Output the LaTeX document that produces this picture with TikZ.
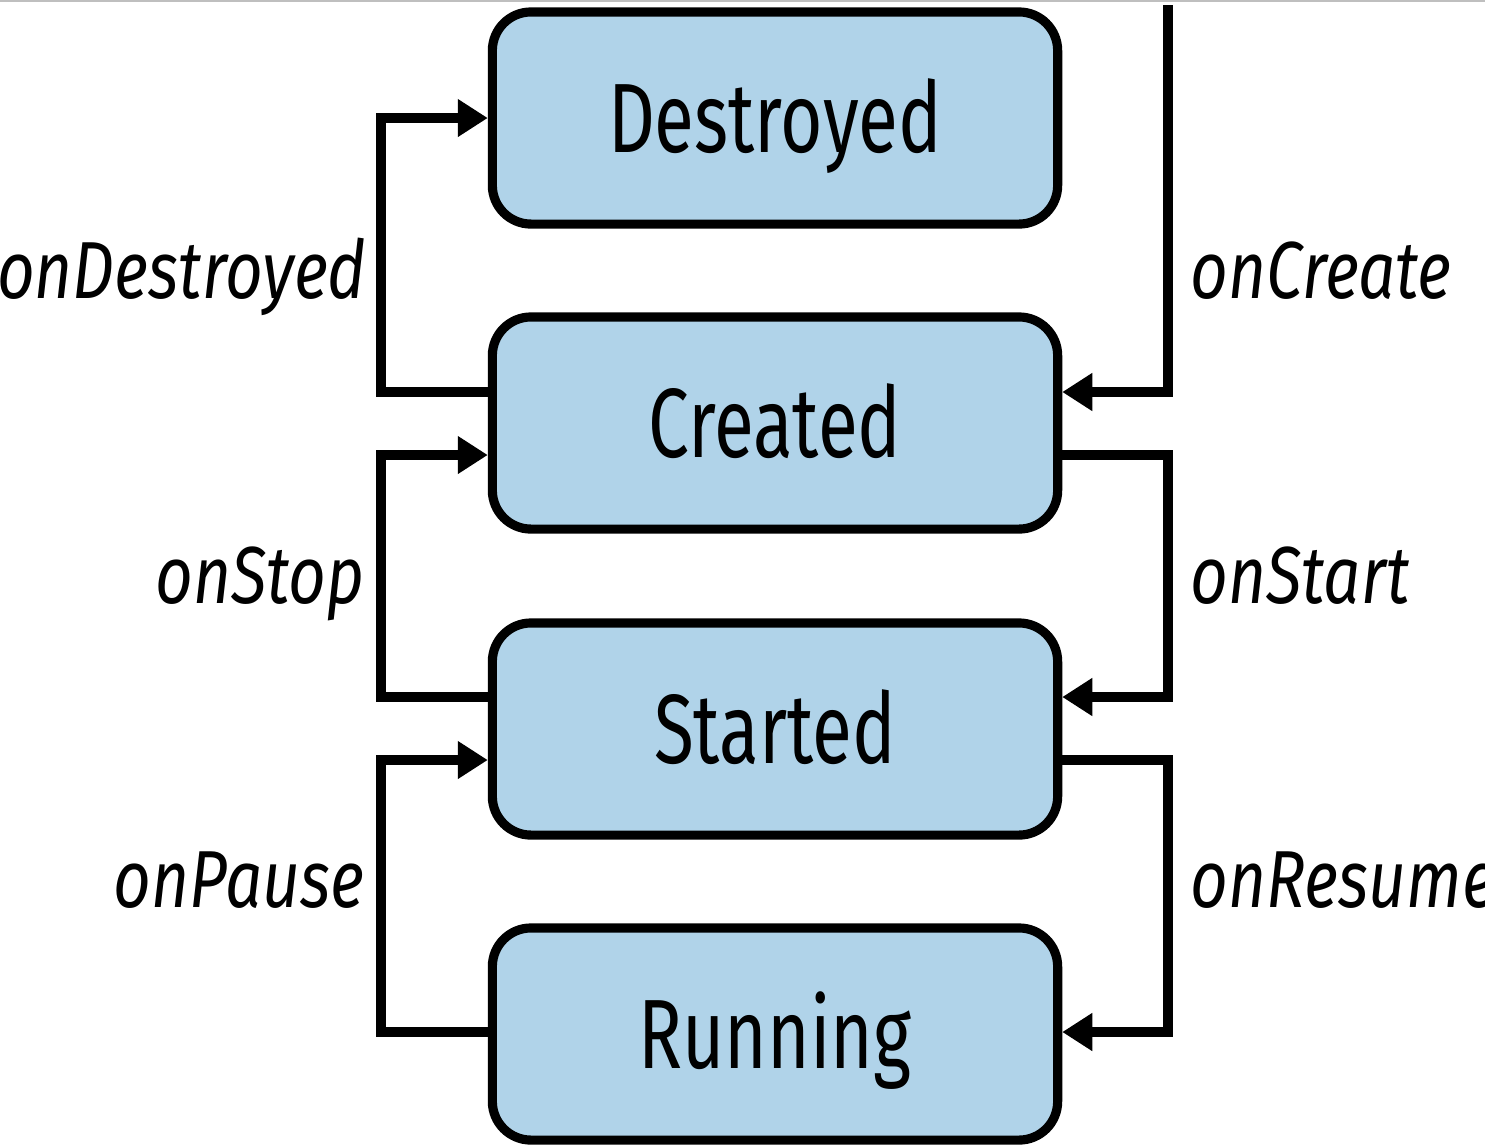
\documentclass[tikz,border=0pt]{standalone}
\usepackage{fontspec}
\setmainfont{Fira Sans}[FakeStretch=0.74]
\newfontfamily\eventfont{Fira Sans}[FakeStretch=0.81]
\usetikzlibrary{positioning,calc,arrows.meta}
\definecolor{statefill}{RGB}{176,211,233}
\tikzset{>=stealth}

\begin{document}
\begin{tikzpicture}[x=0.01cm,y=-0.01cm,
  state/.style={draw,line width=2.6pt,rounded corners=11pt,fill=statefill,
    minimum width=5.65cm,minimum height=2.12cm,inner sep=0pt,
    font=\fontsize{28}{30}\selectfont,text height=19.4pt,text depth=0pt},
  flow/.style={line width=2.6pt,-{Triangle[length=0.3cm,width=0.36cm]}},
  event/.style={font=\eventfont\fontsize{23}{25}\selectfont\itshape,inner sep=0pt}]
% Page size
\useasboundingbox (0,0) rectangle (1485,1147);
\draw[black!25,line width=0.6pt] (0,1) -- (1485,1);

% States
\node[state] (destroyed) at (775,118) {Destroyed};
\node[state] (created) at (775,423) {Created};
\node[state] (started) at (775,729) {Started};
\node[state] (running) at (775,1034) {Running};

% Lanes left and right of the states
\coordinate (lx) at (381,0);
\coordinate (rx) at (1168,0);
\coordinate (entry) at (1168,5);

% Left side: going down the lifecycle
\draw[flow] ($(created.west)+(0,-31)$) -| (lx |- destroyed.west) -- (destroyed.west);
\draw[flow] ($(started.west)+(0,-32)$) -| (lx |- 0,455) -- ($(created.west)+(0,32)$);
\draw[flow] ($(running.west)+(0,-2)$) -| (lx |- 0,760) -- ($(started.west)+(0,31)$);

% Right side: going up the lifecycle
\draw[flow] (entry) |- ($(created.east)+(0,-31)$);
\draw[flow] ($(created.east)+(0,32)$) -| (rx |- 0,697) -- ($(started.east)+(0,-32)$);
\draw[flow] ($(started.east)+(0,31)$) -| (rx |- 0,1032) -- ($(running.east)+(0,-2)$);

% Event labels
\node[event,anchor=base east] (ondestroyed) at (367,298) {onDestroyed};
\node[event,anchor=base east] (onstop) at (365,603) {onStop};
\node[event,anchor=base east] (onpause) at (365,907) {onPause};
\node[event,anchor=base west] (oncreate) at (1190,298) {onCreate};
\node[event,anchor=base west] (onstart) at (1190,603) {onStart};
\node[event,anchor=base west] (onresume) at (1190,907) {onResume};
\end{tikzpicture}
\end{document}
